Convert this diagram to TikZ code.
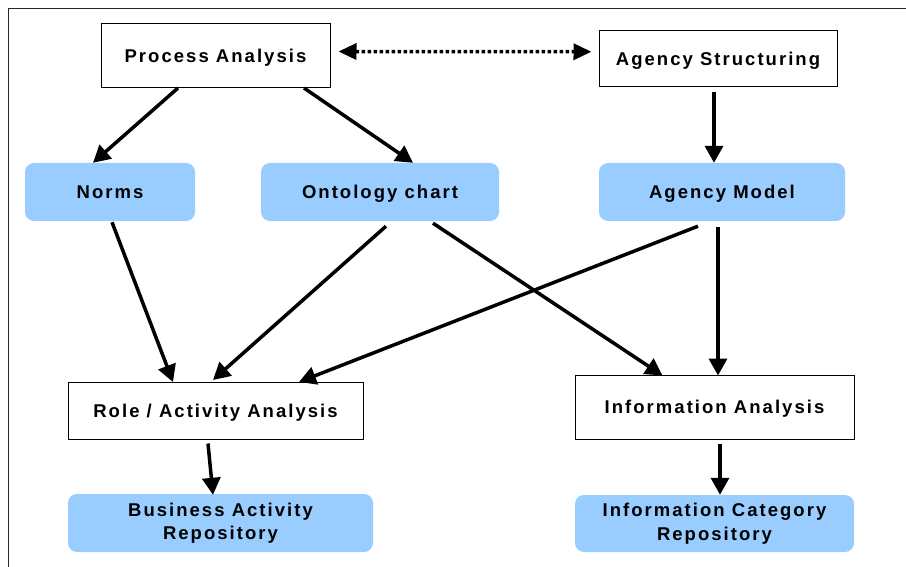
\documentclass[tikz,border=0pt]{standalone}
\usepackage{fontspec}
\newfontfamily\diafont[LetterSpace=11]{Liberation Sans}
\usetikzlibrary{arrows.meta}
\definecolor{lblue}{RGB}{153,204,255}
\begin{document}
\begin{tikzpicture}[x=1pt,y=-1pt,
  every node/.style={font=\diafont\bfseries\fontsize{18.5}{23.5}\selectfont},
  wbox/.style={draw=black, line width=1pt, fill=white, inner sep=0pt, text height=13.2pt, text depth=0pt},
  bbox/.style={fill=lblue, rounded corners=9pt, inner sep=0pt},
  bboxone/.style={bbox, text height=13.2pt, text depth=0pt},
  arr/.style={line width=3.5pt, -{Triangle[length=17pt,width=18pt]}},
  darr/.style={line width=3.5pt, dash pattern=on 3.5pt off 2.5pt, {Triangle[length=18pt,width=16pt]}-{Triangle[length=18pt,width=16pt]}}]
\useasboundingbox (0,0) rectangle (906,567);
\draw[black!85, line width=1pt] (8.5,567) -- (8.5,9) -- (906,9);

\node[wbox, minimum width=229pt, minimum height=64pt] (pa) at (215.5,55.5) {Process Analysis};
\node[wbox, minimum width=238pt, minimum height=56.5pt] (as) at (718,58.75) {Agency Structuring};
\node[bboxone, minimum width=170pt, minimum height=58pt] (norms) at (110,192) {Norms};
\node[bboxone, minimum width=238pt, minimum height=58pt] (onto) at (380,192) {Ontology chart};
\node[bboxone, minimum width=246pt, minimum height=58pt] (am) at (722,192) {Agency Model};
\node[wbox, minimum width=295pt, minimum height=56.5pt] (role) at (215.5,410.75) {Role / Activity Analysis};
\node[wbox, minimum width=279pt, minimum height=64pt] (info) at (714.5,407) {Information Analysis};
\node[bbox, align=center, minimum width=305pt, minimum height=58pt] (bar) at (220.5,523) {Business Activity\\Repository};
\node[bbox, align=center, minimum width=279pt, minimum height=57pt] (icr) at (714.5,523.5) {Information Category\\Repository};

\draw[arr] ([xshift=-37.5pt]pa.south) -- ([xshift=-17pt]norms.north);
\draw[arr] ([xshift=88.5pt]pa.south) -- ([xshift=33pt]onto.north);
\draw[arr] ([xshift=-4pt,yshift=-5pt]as.south) -- ([xshift=-8pt]am.north);
\draw[darr] ([xshift=8pt,yshift=4pt]pa.east) -- ([xshift=-7pt,yshift=7pt]as.west);
\draw[arr] ([xshift=2pt,yshift=-1pt]norms.south) -- ([xshift=-42.5pt]role.north);
\draw[arr] ([xshift=6pt,yshift=-5pt]onto.south) -- ([xshift=-2.5pt,yshift=2pt]role.north);
\draw[arr] ([xshift=-24pt,yshift=-5pt]am.south) -- ([xshift=83.5pt]role.north);
\draw[arr] ([xshift=53pt,yshift=-2pt]onto.south) -- ([xshift=-52pt,yshift=-1pt]info.north);
\draw[arr] ([xshift=-4pt,yshift=-6pt]am.south) -- ([xshift=3.5pt,yshift=-1pt]info.north);
\draw[arr] ([xshift=-7.5pt,yshift=-4pt]role.south) -- ([xshift=-7.5pt,yshift=-1pt]bar.north);
\draw[arr] ([xshift=5.5pt,yshift=-4pt]info.south) -- ([xshift=5.5pt]icr.north);
\end{tikzpicture}
\end{document}
